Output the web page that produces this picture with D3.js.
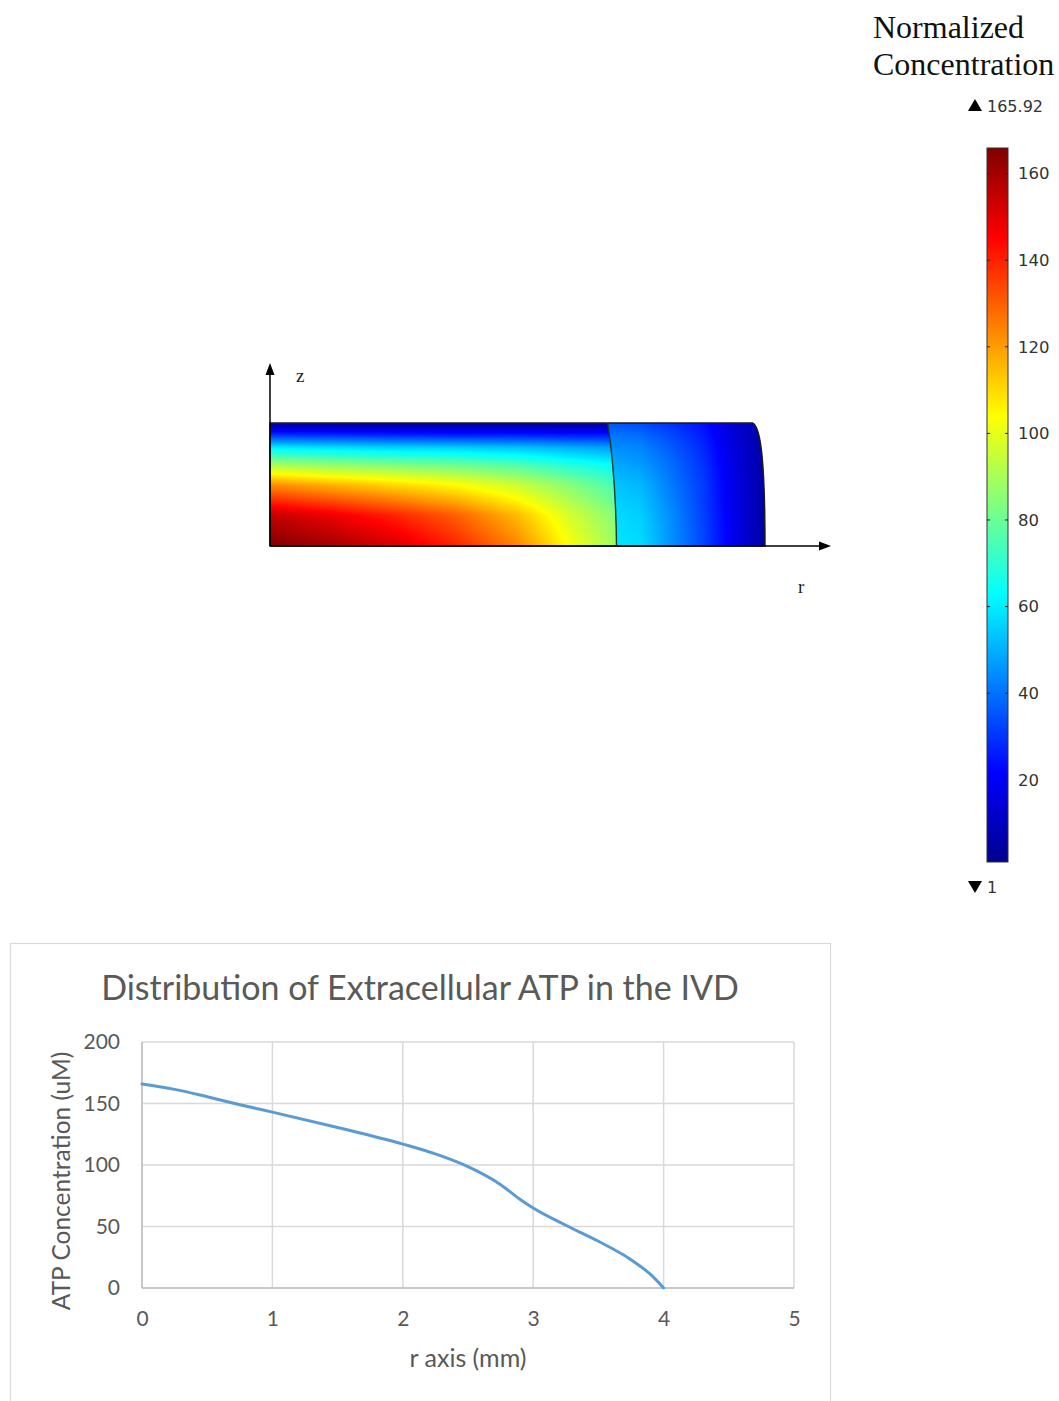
<!DOCTYPE html>
<html><head><meta charset="utf-8">
<script src="https://cdn.jsdelivr.net/npm/d3@7/dist/d3.min.js"></script>
<style>body{margin:0;background:#fff}svg{display:block}</style>
</head><body>
<svg id="chart" width="1059" height="1401"></svg>
<script>
// ---------- Line chart data ----------
const rMm      = [0, 0.25, 0.5, 0.75, 1, 1.5, 2, 2.25, 2.5, 2.75, 2.9, 3, 3.25, 3.5, 3.75, 3.9, 4];
const atpConc  = [165.9, 161.5, 155.5, 149, 143, 130.5, 117, 109, 98.6, 84, 72, 65, 51, 38, 23, 11, 0];
const xTicks   = [0, 1, 2, 3, 4, 5];
const yTicks   = [0, 50, 100, 150, 200];
const chartTitle = "Distribution of Extracellular ATP in the IVD";
const xTitle   = "r axis (mm)";
const yTitle   = "ATP Concentration (uM)";

// ---------- Colorbar ----------
const cbTicks  = [20, 40, 60, 80, 100, 120, 140, 160];
const cbMin    = 1;
const cbMax    = 165.92;
const cbTitle  = ["Normalized", "Concentration"];
const jetColors = ["#00008f","#0000ff","#0080ff","#00ffff","#80ff80","#ffff00","#ff8000","#ff0000","#800000"];

// ---------- Heat map readings (value at z-fraction rows x r columns) ----------
const zFrac = [0, 0.25, 0.5, 0.65, 0.8, 0.9, 1];
const npR   = [0, 0.5, 1, 1.5, 2, 2.4, 2.8];
const npGrid = [
  [166, 160, 152, 140, 124, 104, 88],
  [155, 148, 140, 130, 115, 98, 84],
  [122, 116, 110, 104, 95, 85, 74],
  [92, 88, 85, 82, 77, 70, 64],
  [60, 58, 56, 55, 53, 50, 47],
  [30, 29, 28, 27, 27, 26, 26],
  [3, 3, 3, 3, 3, 3, 4]
];
const afR   = [2.7, 3.0, 3.25, 3.5, 3.75, 4.0];
const afGrid = [
  [60, 57, 45, 33, 18, 5],
  [58, 55, 44, 32, 18, 5],
  [54, 51, 41, 31, 17, 5],
  [50, 47, 39, 30, 16, 5],
  [45, 43, 36, 28, 15, 5],
  [41, 39, 33, 26, 14, 5],
  [35, 33, 29, 24, 13, 5]
];
const boundaryR = [2.80, 2.73]; // NP/AF interface at bottom, top
const rimR = [4.0, 3.9];        // outer edge at bottom, top

const svg = d3.select("#chart");
const sans = "Lato, 'Open Sans', sans-serif";
const grey = "#595959";

// ---------- Color scale (jet) ----------
const jetDomain = jetColors.map((c, i) => cbMin + (cbMax - cbMin) * i / (jetColors.length - 1));
const color = d3.scaleLinear().domain(jetDomain).range(jetColors).interpolate(d3.interpolateRgb).clamp(true);

// ---------- Heat map ----------
const hx = d3.scaleLinear().domain([0, 4]).range([270, 765]);
const hy = d3.scaleLinear().domain([0, 1]).range([546, 423]);

(function drawHeat() {
  const x0 = Math.floor(hx(0)), x1 = Math.ceil(hx(4)), y0 = Math.floor(hy(1)), y1 = Math.ceil(hy(0));
  const W = x1 - x0, H = y1 - y0;
  const cv = document.createElement("canvas");
  cv.width = W; cv.height = H;
  const ctx = cv.getContext("2d");
  const img = ctx.createImageData(W, H);
  const npRows = npGrid.map(row => d3.scaleLinear().domain(npR).range(row).clamp(true));
  const afRows = afGrid.map(row => d3.scaleLinear().domain(afR).range(row).clamp(true));
  const bnd = t => boundaryR[0] + (boundaryR[1] - boundaryR[0]) * t * t;
  for (let i = 0; i < W; i++) {
    const r = hx.invert(x0 + i + 0.5);
    const npCol = d3.scaleLinear().domain(zFrac).range(npRows.map(s => s(r))).clamp(true);
    const afCol = d3.scaleLinear().domain(zFrac).range(afRows.map(s => s(r))).clamp(true);
    for (let j = 0; j < H; j++) {
      const t = Math.max(0, Math.min(1, hy.invert(y0 + j + 0.5)));
      const v = r < bnd(t) ? npCol(t) : afCol(t);
      const c = d3.rgb(color(v));
      const k = (j * W + i) * 4;
      img.data[k] = c.r; img.data[k + 1] = c.g; img.data[k + 2] = c.b; img.data[k + 3] = 255;
    }
  }
  ctx.putImageData(img, 0, 0);

  const shape = `M${hx(0)},${hy(0)} L${hx(0)},${hy(1)} L${hx(rimR[1])},${hy(1)} ` +
    `C${hx(rimR[1] + 0.07)},${hy(0.97)} ${hx(rimR[0])},${hy(0.65)} ${hx(rimR[0])},${hy(0)} Z`;
  const defs = svg.append("defs");
  defs.append("clipPath").attr("id", "discClip").append("path").attr("d", shape);
  svg.append("image").attr("href", cv.toDataURL()).attr("x", x0).attr("y", y0)
    .attr("width", W).attr("height", H).attr("preserveAspectRatio", "none")
    .attr("clip-path", "url(#discClip)");
  svg.append("path").attr("d", shape).attr("fill", "none").attr("stroke", "#1b1b1b").attr("stroke-width", 1.4);
  svg.append("path")
    .attr("d", `M${hx(boundaryR[1])},${hy(1)} Q${hx(boundaryR[0] - 0.005)},${hy(0.55)} ${hx(boundaryR[0])},${hy(0)}`)
    .attr("fill", "none").attr("stroke", "#1f3a2a").attr("stroke-width", 1.4);

  // axes with arrows
  const ax = svg.append("g").attr("stroke", "#000").attr("fill", "#000");
  ax.append("line").attr("x1", hx(0)).attr("y1", hy(0)).attr("x2", hx(0)).attr("y2", hy(1) - 50).attr("stroke-width", 1.5);
  ax.append("path").attr("d", `M${hx(0)},${hy(1) - 60} L${hx(0) - 4.5},${hy(1) - 48} L${hx(0) + 4.5},${hy(1) - 48} Z`).attr("stroke", "none");
  ax.append("line").attr("x1", hx(0)).attr("y1", hy(0)).attr("x2", hx(4) + 58).attr("y2", hy(0)).attr("stroke-width", 1.5);
  ax.append("path").attr("d", `M${hx(4) + 66},${hy(0)} L${hx(4) + 54},${hy(0) - 4.5} L${hx(4) + 54},${hy(0) + 4.5} Z`).attr("stroke", "none");
  svg.append("text").attr("x", hx(0) + 26).attr("y", hy(1) - 41).text("z")
    .attr("font-family", "'Liberation Serif', serif").attr("font-size", 19).attr("fill", "#222");
  svg.append("text").attr("x", hx(4) + 33).attr("y", hy(0) + 47).text("r")
    .attr("font-family", "'Liberation Serif', serif").attr("font-size", 19).attr("fill", "#222");
})();

// ---------- Colorbar ----------
(function drawColorbar() {
  const cy = d3.scaleLinear().domain([cbMin, cbMax]).range([862, 148]);
  const bx = 987, bw = 21;
  const grad = svg.select("defs").append("linearGradient").attr("id", "cbGrad")
    .attr("x1", 0).attr("y1", 1).attr("x2", 0).attr("y2", 0);
  jetColors.forEach((c, i) => grad.append("stop").attr("offset", i / (jetColors.length - 1)).attr("stop-color", c));
  svg.append("rect").attr("x", bx).attr("y", cy(cbMax)).attr("width", bw).attr("height", cy(cbMin) - cy(cbMax))
    .attr("fill", "url(#cbGrad)").attr("stroke", "#333").attr("stroke-width", 1);
  const g = svg.append("g");
  cbTicks.forEach(v => {
    g.append("line").attr("x1", bx).attr("x2", bx + 3).attr("y1", cy(v)).attr("y2", cy(v)).attr("stroke", "#222");
    g.append("line").attr("x1", bx + bw - 3).attr("x2", bx + bw).attr("y1", cy(v)).attr("y2", cy(v)).attr("stroke", "#222");
    g.append("text").attr("x", bx + bw + 10).attr("y", cy(v)).attr("dy", "0.35em").text(v)
      .attr("font-family", "'DejaVu Sans', sans-serif").attr("font-size", 16.5).attr("fill", "#333");
  });
  // max / min markers
  svg.append("path").attr("d", `M${bx - 12},${cy(cbMax) - 49} l-7,12 l14,0 Z`).attr("fill", "#000");
  svg.append("text").attr("x", bx).attr("y", cy(cbMax) - 36).text(cbMax.toFixed(2))
    .attr("font-family", "'DejaVu Sans', sans-serif").attr("font-size", 16).attr("fill", "#333");
  svg.append("path").attr("d", `M${bx - 19},${cy(cbMin) + 19} l14,0 l-7,12 Z`).attr("fill", "#000");
  svg.append("text").attr("x", bx).attr("y", cy(cbMin) + 31).text(cbMin)
    .attr("font-family", "'DejaVu Sans', sans-serif").attr("font-size", 16).attr("fill", "#333");
  svg.append("text").attr("font-family", "'Liberation Serif', serif").attr("font-size", 32).attr("fill", "#111")
    .selectAll("tspan").data(cbTitle).join("tspan").attr("x", 873).attr("y", (d, i) => 38 + i * 37).text(d => d);
})();

// ---------- Line chart ----------
(function drawLine() {
  svg.append("rect").attr("x", 10.5).attr("y", 943.5).attr("width", 820).attr("height", 470)
    .attr("fill", "#fff").attr("stroke", "#d9d9d9").attr("stroke-width", 1.2);
  const x = d3.scaleLinear().domain([0, 5]).range([142, 794]);
  const y = d3.scaleLinear().domain([0, 200]).range([1288, 1042]);
  const grid = svg.append("g").attr("stroke", "#d9d9d9").attr("stroke-width", 1.5);
  xTicks.forEach(t => grid.append("line").attr("x1", x(t)).attr("x2", x(t)).attr("y1", y(0)).attr("y2", y(200)));
  yTicks.forEach(t => grid.append("line").attr("x1", x(0)).attr("x2", x(5)).attr("y1", y(t)).attr("y2", y(t)));
  svg.append("line").attr("x1", x(0)).attr("x2", x(0)).attr("y1", y(0)).attr("y2", y(200)).attr("stroke", "#bfbfbf").attr("stroke-width", 1.5);
  svg.append("line").attr("x1", x(0)).attr("x2", x(5)).attr("y1", y(0)).attr("y2", y(0)).attr("stroke", "#bfbfbf").attr("stroke-width", 1.5);

  const xa = svg.append("g").attr("transform", `translate(0,${y(0)})`)
    .call(d3.axisBottom(x).tickValues(xTicks).tickSize(0).tickPadding(23).tickFormat(d3.format("d")));
  const ya = svg.append("g").attr("transform", `translate(${x(0) - 22},0)`)
    .call(d3.axisLeft(y).tickValues(yTicks).tickSize(0).tickPadding(0).tickFormat(d3.format("d")));
  [xa, ya].forEach(a => {
    a.select(".domain").remove();
    a.selectAll("text").attr("font-family", sans).attr("font-size", 21).attr("fill", grey);
  });

  const line = d3.line().x((d, i) => x(rMm[i])).y(d => y(d)).curve(d3.curveMonotoneX);
  svg.append("path").datum(atpConc).attr("d", line).attr("fill", "none")
    .attr("stroke", "#5b9bd5").attr("stroke-width", 3).attr("stroke-linecap", "round");

  svg.append("text").attr("x", 420).attr("y", 1000).attr("text-anchor", "middle").text(chartTitle)
    .attr("font-family", sans).attr("font-size", 34).attr("fill", grey);
  svg.append("text").attr("x", 468).attr("y", 1367).attr("text-anchor", "middle").text(xTitle)
    .attr("font-family", sans).attr("font-size", 25).attr("fill", grey);
  svg.append("text").attr("transform", `translate(70,1181) rotate(-90)`).attr("text-anchor", "middle").text(yTitle)
    .attr("font-family", sans).attr("font-size", 24.5).attr("fill", grey);
})();
</script>
</body></html>
